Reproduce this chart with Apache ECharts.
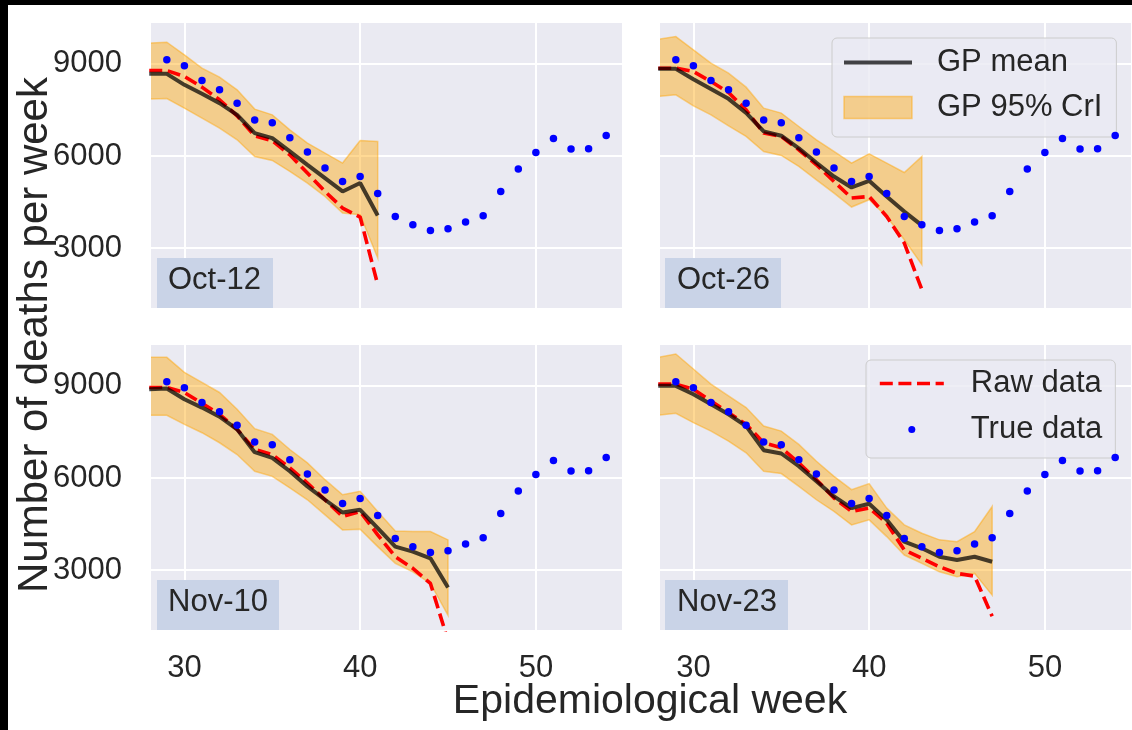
<!DOCTYPE html>
<html>
<head>
<meta charset="utf-8">
<script src="https://cdn.jsdelivr.net/npm/echarts@6/dist/echarts.min.js"></script>
<style>
html,body{margin:0;padding:0;background:#ffffff;}
#chart{width:1132px;height:730px;}
</style>
</head>
<body>
<div id="chart"></div>
<script>
// ---------------- data ----------------
const trueWeeks  = [28,29,30,31,32,33,34,35,36,37,38,39,40,41,42,43,44,45,46,47,48,49,50,51,52,53,54,55];
const trueDeaths = [9098,9130,8935,8457,8154,7721,7168,7080,6592,6127,5606,5170,5333,4780,4031,3761,3576,3631,3849,4054,4845,5574,6114,6569,6224,6234,6667,6852];

const weeksOct12 = [28,29,30,31,32,33,34,35,36,37,38,39,40,41];
const meanOct12  = [8675,8675,8317,8024,7721,7340,6745,6582,6147,5713,5280,4845,5118,4064];
const rawOct12   = [8782,8782,8587,8241,7829,7308,6657,6494,6039,5443,4845,4304,4011,1809];
const upperOct12 = [9673,9705,9293,8860,8567,8154,7526,7340,6852,6419,6094,5769,6504,6472];
const lowerOct12 = [7851,7871,7558,7233,6908,6527,5984,5854,5496,5118,4682,4142,4087,2678];

const weeksOct26 = [28,29,30,31,32,33,34,35,36,37,38,39,40,41,42,43];
const meanOct26  = [8837,8837,8500,8180,7860,7400,6800,6660,6250,5780,5330,4975,5190,4680,4190,3740];
const rawOct26   = [8859,8859,8750,8424,8066,7503,6745,6636,6202,5713,5170,4630,4682,4031,3166,1646];
const upperOct26 = [9803,9889,9456,9022,8697,8241,7558,7396,6960,6527,6147,5769,6071,5769,5463,5984];
const lowerOct26 = [7937,7991,7633,7340,6983,6636,6147,6017,5659,5225,4792,4338,4575,4031,3273,2460];

const weeksNov10 = [28,29,30,31,32,33,34,35,36,37,38,39,40,41,42,43,44,45];
const meanNov10  = [8892,8914,8564,8292,7998,7583,6840,6656,6218,5727,5291,4876,4964,4366,3764,3600,3384,2434];
const rawNov10   = [8948,8948,8784,8433,8074,7583,6928,6764,6329,5836,5291,4745,4909,4146,3436,3057,2566,700];
const upperNov10 = [9929,9929,9439,9111,8784,8237,7606,7419,6928,6493,5945,5454,5564,4909,4277,4254,4254,3985];
const lowerNov10 = [8041,8041,7746,7474,7147,6764,6218,6054,5675,5291,4800,4309,4333,3764,3220,2945,2566,1528];

const weeksNov23 = [28,29,30,31,32,33,34,35,36,37,38,39,40,41,42,43,44,45,46,47];
const meanNov23  = [9000,9000,8728,8401,8074,7691,6905,6797,6382,5891,5400,5020,5160,4636,3926,3711,3436,3327,3436,3273];
const rawNov23   = [9055,9055,8892,8509,8128,7746,7147,6984,6493,5945,5346,4909,5020,4529,3655,3384,3109,2893,2805,1495];
const upperNov23 = [9929,10038,9547,9055,8673,8293,7691,7527,7092,6545,6054,5618,5815,5020,4473,4202,3985,3927,4254,5073];
const lowerNov23 = [8041,8106,7802,7527,7200,6820,6218,6143,5727,5291,4909,4473,4636,4091,3491,3220,2945,2781,2893,2182];

const panelLabels = ['Oct-12','Oct-26','Nov-10','Nov-23'];
const xTicks = [30,40,50];
const yTicks = [3000,6000,9000];
const xLabel = 'Epidemiological week';
const yLabel = 'Number of deaths per week';

// ---------------- layout / style ----------------
const FONT = "'Liberation Sans', Arial, Helvetica, sans-serif";
const TXT = '#262626';
const bandFill = 'rgba(255,165,0,0.42)';
const bandEdge = 'rgba(255,165,0,0.45)';
const meanColor = 'rgba(0,0,0,0.72)';

const panels = [
  {weeks: weeksOct12, mean: meanOct12, raw: rawOct12, upper: upperOct12, lower: lowerOct12},
  {weeks: weeksOct26, mean: meanOct26, raw: rawOct26, upper: upperOct26, lower: lowerOct26},
  {weeks: weeksNov10, mean: meanNov10, raw: rawNov10, upper: upperNov10, lower: lowerNov10},
  {weeks: weeksNov23, mean: meanNov23, raw: rawNov23, upper: upperNov23, lower: lowerNov23}
];

const gridPos = [
  {left: 151, top: 23,  width: 471, height: 285},
  {left: 660, top: 23,  width: 471, height: 285},
  {left: 151, top: 345, width: 471, height: 285},
  {left: 660, top: 345, width: 471, height: 285}
];

const grids = gridPos.map(g => Object.assign({show: true, backgroundColor: '#EAEAF2', borderWidth: 0, containLabel: false}, g));

const xAxes = gridPos.map((g, i) => ({
  type: 'value', gridIndex: i, min: 28.1, max: 54.9,
  axisLine: {show: false},
  axisTick: {show: false, customValues: xTicks},
  axisLabel: {show: i >= 2, customValues: xTicks, fontSize: 31, color: TXT, fontFamily: FONT, margin: 23,
              formatter: v => String(v)},
  splitLine: {show: true, lineStyle: {color: '#ffffff', width: 2}}
}));

const yAxes = gridPos.map((g, i) => ({
  type: 'value', gridIndex: i, min: 1050, max: 10330,
  axisLine: {show: false},
  axisTick: {show: false, customValues: yTicks},
  axisLabel: {show: i % 2 === 0, customValues: yTicks, fontSize: 31, color: TXT, fontFamily: FONT, margin: 29,
              formatter: v => String(v)},
  splitLine: {show: true, lineStyle: {color: '#ffffff', width: 2}}
}));

const series = [];
panels.forEach((p, i) => {
  series.push({
    type: 'custom', name: 'GP 95% CrI', xAxisIndex: i, yAxisIndex: i, z: 1, silent: true, clip: true,
    data: p.weeks.map((w, k) => [w, p.lower[k], p.upper[k]]),
    encode: {x: 0, y: [1, 2]},
    itemStyle: {color: bandFill},
    renderItem: function (params, api) {
      if (params.dataIndex !== 0) return null;
      const up = p.weeks.map((w, k) => api.coord([w, p.upper[k]]));
      const lo = p.weeks.map((w, k) => api.coord([w, p.lower[k]])).reverse();
      return {
        type: 'polygon',
        shape: {points: up.concat(lo)},
        style: {fill: bandFill, stroke: bandEdge, lineWidth: 1.5}
      };
    }
  });
  series.push({
    type: 'line', name: 'Raw data', xAxisIndex: i, yAxisIndex: i,
    data: p.weeks.map((w, k) => [w, p.raw[k]]),
    symbol: 'none', silent: true, z: 3,
    lineStyle: {color: '#ff0000', width: 3.6, type: [13, 5.6]}, itemStyle: {color: '#ff0000'}
  });
  series.push({
    type: 'line', name: 'GP mean', xAxisIndex: i, yAxisIndex: i,
    data: p.weeks.map((w, k) => [w, p.mean[k]]),
    symbol: 'none', silent: true, z: 4,
    lineStyle: {color: meanColor, width: 4}, itemStyle: {color: meanColor}
  });
  series.push({
    type: 'scatter', name: 'True data', xAxisIndex: i, yAxisIndex: i,
    data: trueWeeks.map((w, k) => [w, trueDeaths[k]]),
    symbol: 'circle', symbolSize: 7.5, silent: true, z: 5,
    itemStyle: {color: '#0000ff', opacity: 1}
  });
});

const legendCommon = {
  orient: 'vertical', selectedMode: false,
  backgroundColor: 'rgba(234,234,242,0.8)', borderColor: '#cccccc', borderWidth: 1, borderRadius: 5,
  textStyle: {fontSize: 31, color: TXT, fontFamily: FONT, lineHeight: 31}
};

const legends = [
  Object.assign({}, legendCommon, {
    left: 832, top: 38, itemWidth: 68, itemHeight: 22, itemGap: 14, padding: [9, 14, 14, 10],
    textStyle: Object.assign({}, legendCommon.textStyle, {padding: [0, 0, 0, 20]}),
    data: [
      {name: 'GP mean', itemStyle: {opacity: 0}, lineStyle: {width: 4}},
      {name: 'GP 95% CrI', icon: 'rect', itemStyle: {color: bandFill, borderColor: bandEdge, borderWidth: 1.5, opacity: 1}}
    ]
  }),
  Object.assign({}, legendCommon, {
    left: 866, top: 360, itemWidth: 64, itemHeight: 7, itemGap: 15, padding: [8, 13, 13, 12],
    textStyle: Object.assign({}, legendCommon.textStyle, {padding: [0, 0, 0, 22]}),
    data: [
      {name: 'Raw data', itemStyle: {opacity: 0}, lineStyle: {width: 3.6}},
      {name: 'True data', itemStyle: {opacity: 1}}
    ]
  })
];

// panel label boxes (position of each box in pixels)
const boxPos = [
  {x: 157, y: 258, w: 116, tx: 168},
  {x: 665, y: 258, w: 116, tx: 677},
  {x: 157, y: 580, w: 122, tx: 168},
  {x: 665, y: 580, w: 123, tx: 677}
];

const graphics = [
  {type: 'rect', shape: {x: 0, y: 0, width: 1132, height: 5}, style: {fill: '#000000'}, z: 100},
  {type: 'rect', shape: {x: 0, y: 0, width: 8, height: 730}, style: {fill: '#000000'}, z: 100},
  {type: 'text', x: 650, y: 702, z: 100,
   style: {text: xLabel, fontSize: 41, fontFamily: FONT, fill: TXT, align: 'center', verticalAlign: 'middle', textAlign: 'center', textVerticalAlign: 'middle'}},
  {type: 'text', x: 35, y: 335, rotation: Math.PI / 2, z: 100,
   style: {text: yLabel, fontSize: 42, fontFamily: FONT, fill: TXT, align: 'center', verticalAlign: 'middle', textAlign: 'center', textVerticalAlign: 'middle'}}
];
boxPos.forEach((b, i) => {
  const g = gridPos[i];
  graphics.push({type: 'rect', z: 50, shape: {x: b.x, y: b.y, width: b.w, height: g.top + g.height - b.y}, style: {fill: '#c9d3e7'}});
  graphics.push({type: 'text', z: 51, x: b.tx, y: b.y + 22.5,
    style: {text: panelLabels[i], fontSize: 31, fontFamily: FONT, fill: TXT, align: 'left', verticalAlign: 'middle', textAlign: 'left', textVerticalAlign: 'middle'}});
});

const chart = echarts.init(document.getElementById('chart'), null, {renderer: 'canvas'});
chart.setOption({
  animation: false,
  backgroundColor: '#ffffff',
  grid: grids,
  xAxis: xAxes,
  yAxis: yAxes,
  legend: legends,
  series: series,
  graphic: graphics
});
</script>
</body>
</html>
